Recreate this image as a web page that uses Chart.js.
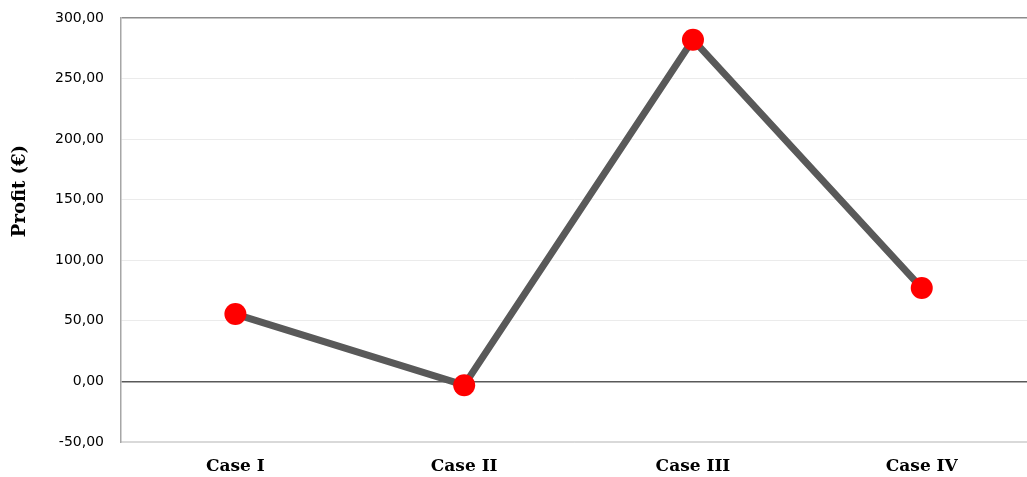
<!DOCTYPE html>
<html>
<head>
<meta charset="utf-8">
<script src="https://cdn.jsdelivr.net/npm/chart.js@4/dist/chart.umd.min.js"></script>
<style>
  html, body { margin: 0; padding: 0; background: #ffffff; overflow: hidden; }
  #chart { display: block; }
</style>
</head>
<body>
<canvas id="chart" width="1027" height="477"></canvas>
<script>
// Profit per case
const categories = ['Case I', 'Case II', 'Case III', 'Case IV'];
const profit = [55.6, -3.1, 282.1, 77.1];
const yMin = -50;
const yMax = 300;
const yStep = 50;
const yTitle = 'Profit (€)';

// category slots are 1..n; the plot is cut a little short on the right
const xMin = 0.5;
const xMax = categories.length + 0.46;

const fmt = v => v.toFixed(2).replace('.', ',');
const points = profit.map((v, i) => ({ x: i + 1, y: v }));

// Vertical axis title, drawn beside the value labels
const yTitlePlugin = {
  id: 'yTitle',
  afterDraw(chart) {
    const ctx = chart.ctx;
    ctx.save();
    ctx.translate(20, 191);
    ctx.rotate(-Math.PI / 2);
    ctx.font = 'bold 18px "DejaVu Serif", serif';
    ctx.fillStyle = '#000000';
    ctx.textAlign = 'center';
    ctx.textBaseline = 'middle';
    ctx.fillText(yTitle, 0, 0);
    ctx.restore();
  }
};

new Chart(document.getElementById('chart'), {
  type: 'line',
  data: {
    datasets: [{
      data: points,
      borderColor: '#595959',
      borderWidth: 7,
      backgroundColor: '#ff0000',
      pointBackgroundColor: '#ff0000',
      pointBorderWidth: 0,
      pointRadius: 11,
      pointHoverRadius: 11,
      tension: 0,
      fill: false,
      clip: 20
    }]
  },
  options: {
    responsive: false,
    animation: false,
    events: [],
    layout: { autoPadding: false, padding: { top: 18, right: 0, bottom: 0, left: 0 } },
    plugins: {
      legend: { display: false },
      tooltip: { enabled: false }
    },
    scales: {
      x: {
        type: 'linear',
        min: xMin,
        max: xMax,
        grid: { display: false, drawTicks: false },
        border: { display: true, color: '#d9d9d9', width: 1.5 },
        afterBuildTicks(scale) {
          scale.ticks = categories.map((c, i) => ({ value: i + 1 }));
        },
        ticks: {
          padding: 14,
          maxRotation: 0,
          autoSkip: false,
          color: '#000000',
          font: { family: '"DejaVu Serif", serif', size: 17, weight: 'bold' },
          callback: v => categories[Math.round(v) - 1] || ''
        },
        afterFit(scale) {
          scale.height = 35;
          scale.paddingLeft = 0;
          scale.paddingRight = 0;
        }
      },
      y: {
        min: yMin,
        max: yMax,
        grid: {
          drawTicks: false,
          color: ctx => {
            const v = ctx.tick && ctx.tick.value;
            if (v === yMax) return '#8c8c8c';
            if (v === 0) return '#595959';
            if (v === yMin) return '#d9d9d9';
            return '#ebebeb';
          },
          lineWidth: ctx => {
            const v = ctx.tick && ctx.tick.value;
            if (v === yMax || v === 0) return 1.5;
            return 1;
          }
        },
        border: { display: true, color: '#a6a6a6', width: 1.5 },
        ticks: {
          stepSize: yStep,
          padding: 17,
          color: '#000000',
          font: { family: '"DejaVu Sans", sans-serif', size: 14 },
          callback: v => fmt(v)
        },
        afterFit(scale) {
          scale.width = 121;
          scale.paddingTop = 0;
          scale.paddingBottom = 0;
        }
      }
    }
  },
  plugins: [yTitlePlugin]
});
</script>
</body>
</html>
